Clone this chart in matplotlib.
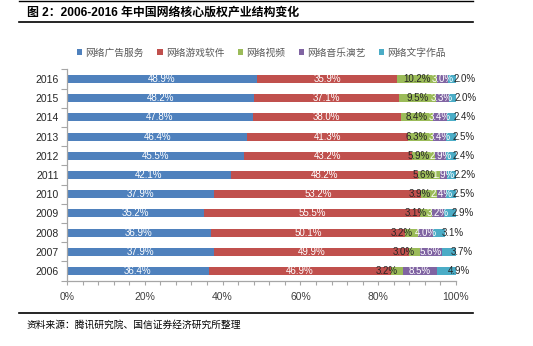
import matplotlib
matplotlib.use("Agg")
import matplotlib.pyplot as plt
from matplotlib.patches import Patch
from matplotlib.lines import Line2D
import numpy as np

plt.rcParams['font.family'] = ['Liberation Sans', 'Noto Sans CJK SC', 'DejaVu Sans']

years = ['2006', '2007', '2008', '2009', '2010', '2011', '2012', '2013', '2014', '2015', '2016']
series_names = ['网络广告服务', '网络游戏软件', '网络视频', '网络音乐演艺', '网络文字作品']
ad = [36.4, 37.9, 36.9, 35.2, 37.9, 42.1, 45.5, 46.4, 47.8, 48.2, 48.9]
game = [46.9, 49.9, 50.1, 55.5, 53.2, 48.2, 43.2, 41.3, 38.0, 37.1, 35.9]
video = [3.2, 3.0, 3.2, 3.1, 3.9, 5.6, 5.9, 6.3, 8.4, 9.5, 10.2]
music = [8.5, 5.6, 4.0, 3.2, 2.4, 1.9, 2.9, 3.4, 3.4, 3.3, 3.0]
literature = [4.9, 3.7, 3.1, 2.9, 2.5, 2.2, 2.4, 2.5, 2.4, 2.0, 2.0]
xticks = [0, 20, 40, 60, 80, 100]

colors = ['#4F81BD', '#C0504D', '#9BBB59', '#8064A2', '#4BACC6']
label_colors = ['white', 'white', '#262626', 'white', '#262626']

W, H = 533, 346
fig = plt.figure(figsize=(W / 100, H / 100), dpi=100)
ax = fig.add_axes([67 / W, 1 - 280.6 / H, (456 - 67) / W, (280.6 - 69.4) / H])

data = [ad, game, video, music, literature]
y = np.arange(len(years))
left = np.zeros(len(years))
for i, vals in enumerate(data):
    vals = np.array(vals)
    ax.barh(y, vals, left=left, height=0.42, color=colors[i], edgecolor='none')
    for j, v in enumerate(vals):
        c = left[j] + v / 2
        txt = f'{v:.1f}%'
        if i == 2:
            shift = max(0.0, (8.4 - v) / 2)
            ax.text(c - shift, y[j], txt, ha='center', va='center', fontsize=7, color=label_colors[i])
        elif i == 4:
            ax.text(c + 0.5, y[j], txt, ha='left', va='center', fontsize=7, color=label_colors[i])
        else:
            ax.text(c, y[j], txt, ha='center', va='center', fontsize=7, color=label_colors[i])
    left = left + vals

ax.set_xlim(0, 100)
ax.set_ylim(-0.5, len(years) - 0.5)
ax.set_yticks(y)
ax.set_yticklabels(years)
ax.set_yticks(np.arange(-0.5, len(years), 1.0), minor=True)
ax.set_xticks(xticks)
ax.set_xticklabels([f'{t}%' for t in xticks])
ax.set_xticks(np.arange(0, 101, 4), minor=True)

for s in ['top', 'right']:
    ax.spines[s].set_visible(False)
for s in ['left', 'bottom']:
    ax.spines[s].set_color('#A6A6A6')
    ax.spines[s].set_linewidth(0.9)

ax.tick_params(axis='y', which='major', length=0, pad=6, labelsize=7.5, labelcolor='#262626')
ax.tick_params(axis='y', which='minor', length=4, color='#A6A6A6', width=0.8)
ax.tick_params(axis='x', which='both', length=3, color='#A6A6A6', width=0.8)
ax.tick_params(axis='x', which='major', pad=5, labelsize=7.5, labelcolor='#404040')

handles = [Patch(facecolor=colors[i], edgecolor='none') for i in range(5)]
fig.legend(handles, series_names, loc='center', bbox_to_anchor=(261.5 / W, 1 - 52.7 / H),
           ncol=5, frameon=False, fontsize=7, labelcolor='#595959',
           handlelength=0.55, handleheight=0.55, handletextpad=0.3, columnspacing=1.4)

fig.text(27 / W, 1 - 12.3 / H, '图 2：2006-2016 年中国网络核心版权产业结构变化',
         fontsize=8.6, fontweight='bold', va='center', ha='left', color='black')
fig.text(26.7 / W, 1 - 324.3 / H, '资料来源：腾讯研究院、国信证券经济研究所整理',
         fontsize=7, va='center', ha='left', color='black')

for yy, lw in [(1.3, 1.0), (22.3, 1.2), (313.3, 1.2)]:
    fig.add_artist(Line2D([19 / W, 472.7 / W], [1 - yy / H, 1 - yy / H],
                          color='black', lw=lw, transform=fig.transFigure))

fig.savefig('out.png', dpi=100)
